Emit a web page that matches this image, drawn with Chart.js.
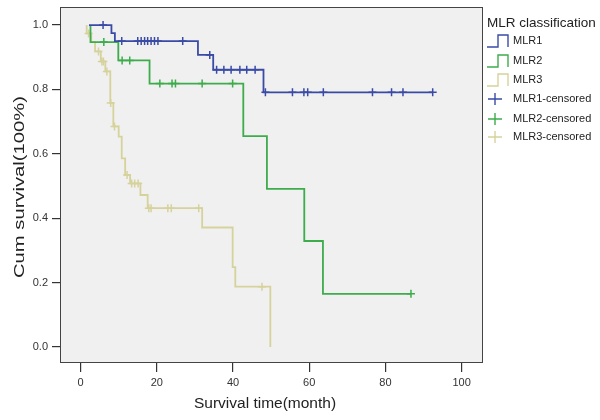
<!DOCTYPE html>
<html>
<head>
<meta charset="utf-8">
<script src="https://cdn.jsdelivr.net/npm/chart.js@4.4.0/dist/chart.umd.min.js"></script>
<style>
  html, body { margin: 0; padding: 0; background: #fff; }
  #wrap { width: 600px; height: 420px; }
</style>
</head>
<body>
<div id="wrap"><canvas id="myChart" width="600" height="420"></canvas></div>
<script>
// Kaplan-Meier steps: event times and survival after each event
const groups = ["MLR1", "MLR2", "MLR3"];

const mlr1Start = 2.2;
const mlr1End = 92.4;
const mlr1Times = [8.1, 9.0, 30.8, 34.8, 48.0];
const mlr1Surv = [0.975, 0.95, 0.907, 0.861, 0.791];
const mlr1Censored = [5.9, 10.8, 15.0, 15.9, 16.8, 17.6, 18.5, 19.4, 20.3, 26.8, 33.9,
  35.7, 37.6, 39.5, 41.8, 43.6, 45.8, 48.5, 55.6, 58.6, 59.6, 63.7, 76.6, 81.6, 84.6, 92.4];

const mlr2Start = 2.6;
const mlr2End = 86.7;
const mlr2Times = [2.6, 9.9, 18.1, 42.7, 48.9, 58.7, 63.6];
const mlr2Surv = [0.947, 0.89, 0.818, 0.655, 0.491, 0.329, 0.165];
const mlr2Censored = [6.1, 10.9, 12.9, 20.8, 24.0, 24.9, 31.9, 39.9, 86.7];

const mlr3Start = 1.6;
const mlr3End = 49.8;
const mlr3Times = [1.6, 2.8, 3.8, 5.3, 6.5, 7.8, 8.6, 10.0, 10.8, 11.7, 13.0, 15.7, 17.6, 31.9, 39.9, 40.6, 49.8];
const mlr3Surv = [0.974, 0.947, 0.918, 0.887, 0.856, 0.758, 0.685, 0.653, 0.586, 0.534, 0.508, 0.472, 0.431, 0.371, 0.248, 0.187, 0.0];
const mlr3Censored = [2.1, 4.7, 5.6, 6.0, 6.9, 7.9, 8.9, 12.2, 13.4, 14.2, 15.1, 17.9, 18.5, 22.9, 23.8, 31.0, 47.6];

const xTicks = [0, 20, 40, 60, 80, 100];
const yTicks = [0, 0.2, 0.4, 0.6, 0.8, 1.0];

const colors = ["#3a4ba6", "#3dac4b", "#d6d29c"];
const FONT = "'Liberation Sans', Arial, sans-serif";

const stepPoints = (start, end, times, surv) => {
  const pts = [{ x: start, y: 1 }];
  times.forEach((t, i) => pts.push({ x: t, y: surv[i] }));
  const last = pts[pts.length - 1];
  if (end > last.x) pts.push({ x: end, y: last.y });
  return pts;
};

const survAt = (times, surv, t) => {
  let s = 1;
  times.forEach((tt, i) => { if (tt <= t) s = surv[i]; });
  return s;
};

const censorPoints = (cens, times, surv) => cens.map(t => ({ x: t, y: survAt(times, surv, t) }));

const lineSet = (label, pts, color) => ({
  label: label,
  data: pts,
  showLine: true,
  stepped: true,
  borderColor: color,
  borderWidth: 1.8,
  pointRadius: 0,
  fill: false,
});

const censorSet = (label, pts, color) => ({
  label: label,
  data: pts,
  showLine: false,
  pointStyle: "cross",
  pointRadius: 4,
  borderColor: color,
  borderWidth: 1.5,
  backgroundColor: color,
});

// grey plot background + box frame
const frame = {
  id: "frame",
  beforeDatasetsDraw(chart) {
    const { ctx, chartArea: a } = chart;
    ctx.save();
    ctx.fillStyle = "#f0f0f0";
    ctx.fillRect(a.left, a.top, a.right - a.left, a.bottom - a.top);
    ctx.restore();
  },
  afterDatasetsDraw(chart) {
    const { ctx, chartArea: a } = chart;
    ctx.save();
    ctx.strokeStyle = "#444";
    ctx.lineWidth = 1;
    ctx.strokeRect(a.left + 0.5, a.top + 0.5, a.right - a.left - 1, a.bottom - a.top - 1);
    ctx.restore();
  },
};

// axis titles (the y one is drawn a bit stretched, like the picture)
const axisTitles = {
  id: "axisTitles",
  afterDraw(chart) {
    const ctx = chart.ctx;
    ctx.save();
    ctx.fillStyle = "#222";
    ctx.textAlign = "center";
    ctx.textBaseline = "middle";
    ctx.font = "15.5px " + FONT;
    ctx.fillText("Survival time(month)", 265, 404);
    ctx.translate(20, 187);
    ctx.rotate(-Math.PI / 2);
    ctx.font = "15px " + FONT;
    const w = ctx.measureText("Cum survival(100%)").width;
    ctx.scale(182 / w, 1);
    ctx.fillText("Cum survival(100%)", 0, 0);
    ctx.restore();
  },
};

// SPSS style legend on the right
const sideLegend = {
  id: "sideLegend",
  afterDraw(chart) {
    const ctx = chart.ctx;
    const x0 = 487;
    ctx.save();
    ctx.fillStyle = "#222";
    ctx.font = "13.5px " + FONT;
    ctx.textBaseline = "middle";
    ctx.fillText("MLR classification", x0, 23);
    ctx.font = "11px " + FONT;
    const rows = [41, 61, 80, 99, 119, 137];
    groups.forEach((g, i) => {
      const y = rows[i];
      ctx.strokeStyle = colors[i];
      ctx.lineWidth = 1.4;
      ctx.beginPath();
      ctx.moveTo(x0, y + 6);
      ctx.lineTo(x0 + 11, y + 6);
      ctx.lineTo(x0 + 11, y - 6);
      ctx.lineTo(x0 + 21, y - 6);
      ctx.lineTo(x0 + 21, y + 6);
      ctx.stroke();
      ctx.fillStyle = "#222";
      ctx.fillText(g, x0 + 26, y);
    });
    groups.forEach((g, i) => {
      const y = rows[i + 3];
      const cx = x0 + 8;
      ctx.strokeStyle = colors[i];
      ctx.lineWidth = 1.4;
      ctx.beginPath();
      ctx.moveTo(cx - 7, y);
      ctx.lineTo(cx + 7, y);
      ctx.moveTo(cx, y - 6);
      ctx.lineTo(cx, y + 6);
      ctx.stroke();
      ctx.fillStyle = "#222";
      ctx.fillText(g + "-censored", x0 + 26, y);
    });
    ctx.restore();
  },
};

const ctx = document.getElementById("myChart").getContext("2d");
new Chart(ctx, {
  type: "scatter",
  data: {
    datasets: [
      lineSet("MLR1", stepPoints(mlr1Start, mlr1End, mlr1Times, mlr1Surv), colors[0]),
      lineSet("MLR2", stepPoints(mlr2Start, mlr2End, mlr2Times, mlr2Surv), colors[1]),
      lineSet("MLR3", stepPoints(mlr3Start, mlr3End, mlr3Times, mlr3Surv), colors[2]),
      censorSet("MLR1-censored", censorPoints(mlr1Censored, mlr1Times, mlr1Surv), colors[0]),
      censorSet("MLR2-censored", censorPoints(mlr2Censored, mlr2Times, mlr2Surv), colors[1]),
      censorSet("MLR3-censored", censorPoints(mlr3Censored, mlr3Times, mlr3Surv), colors[2]),
    ],
  },
  options: {
    responsive: false,
    animation: false,
    layout: { padding: { top: 7, right: 117, left: 0, bottom: 0 } },
    plugins: {
      legend: { display: false },
      tooltip: { enabled: false },
    },
    scales: {
      x: {
        type: "linear",
        min: -5.4,
        max: 105.6,
        afterBuildTicks: (s) => { s.ticks = xTicks.map(v => ({ value: v })); },
        afterFit: (s) => { s.height = 57; s.paddingLeft = 0; s.paddingRight = 0; },
        grid: { drawOnChartArea: false, drawTicks: true, tickLength: 9, color: "#333", lineWidth: 1.2 },
        border: { display: false },
        ticks: { color: "#333", font: { family: FONT, size: 11 }, padding: 4, maxRotation: 0 },
      },
      y: {
        type: "linear",
        min: -0.05,
        max: 1.056,
        afterBuildTicks: (s) => { s.ticks = yTicks.map(v => ({ value: v })); },
        afterFit: (s) => { s.width = 60; s.paddingTop = 0; s.paddingBottom = 0; },
        grid: { drawOnChartArea: false, drawTicks: true, tickLength: 8, color: "#333", lineWidth: 1.2 },
        border: { display: false },
        ticks: { color: "#333", font: { family: FONT, size: 11 }, padding: 4, callback: (v) => v.toFixed(1) },
      },
    },
  },
  plugins: [frame, axisTitles, sideLegend],
});
</script>
</body>
</html>
